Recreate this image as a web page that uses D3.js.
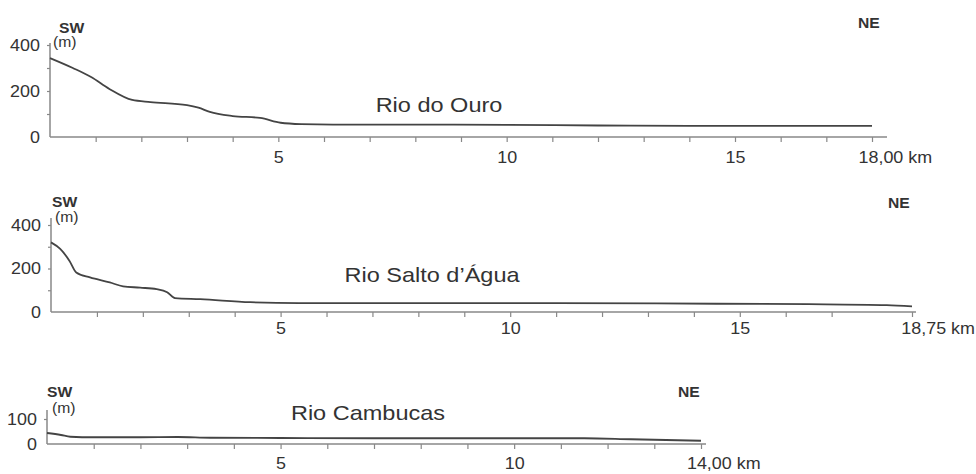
<!DOCTYPE html>
<html>
<head>
<meta charset="utf-8">
<script src="https://cdn.jsdelivr.net/npm/d3@7"></script>
<style>
  body { margin: 0; background: #fff; }
  text { font-family: "Liberation Sans", Arial, sans-serif; fill: #333; }
</style>
</head>
<body>
<svg id="chart"></svg>
<script>
const width = 976;
const height = 474;

// Rio do Ouro profile (distance km, elevation m)
const ouroKm   = [0, 0.5, 0.9, 1.3, 1.8, 2.2, 3.0, 3.25, 3.5, 4.0, 4.6, 5.05, 5.5, 6.2, 8, 10, 12, 14, 16, 18];
const ouroElev = [343, 300, 261, 209, 161, 152, 139, 128, 109, 91, 83, 62, 56, 54, 54, 53, 50, 48, 48, 48];

// Rio Salto d'Água profile
const saltoKm   = [0, 0.2, 0.4, 0.55, 0.85, 1.28, 1.57, 1.94, 2.3, 2.53, 2.7, 3.25, 4.34, 5.4, 8, 11, 14.5, 16.5, 18.2, 18.75];
const saltoElev = [320, 290, 236, 182, 159, 136, 118, 112, 105, 91, 64, 59, 45, 41, 41, 41, 38, 36, 32, 26];

// Rio Cambucas profile
const cambKm   = [0, 0.3, 0.5, 1, 2, 2.8, 3.5, 5, 7, 9, 11, 11.5, 12.5, 14];
const cambElev = [44, 36, 29, 27, 27, 28, 25, 24, 23, 23, 23, 23, 19, 13];

// axis ticks
const ouroLength  = 18;
const saltoLength = 18.75;
const cambLength  = 14;
const elevTicksTall  = [0, 100, 200, 300, 400];
const elevLabelsTall = [0, 200, 400];
const elevTicksLow   = [0, 100];
const elevLabelsLow  = [0, 100];
const kmLabels = [5, 10, 15];

const svg = d3.select("#chart")
    .attr("width", width)
    .attr("height", height);

const sx = 1.12; // the original figure is a bit wide, stretch text to match

function drawPanel(p) {
    const g = svg.append("g");
    const x = d3.scaleLinear().domain([0, p.length]).range(p.xRange);
    const y = d3.scaleLinear().domain(p.yDomain).range(p.yRange);

    // distance ticks: every km up to the end, plus the end
    const kmTicks = d3.range(1, Math.floor(p.length) + 1).filter(k => !p.skip || !p.skip.includes(k));
    if (kmTicks[kmTicks.length - 1] !== p.length) kmTicks.push(p.length);

    const fmtEnd = d3.format(".2f");
    const xAxis = d3.axisBottom(x)
        .tickValues(kmTicks)
        .tickSizeInner(5)
        .tickSizeOuter(0)
        .tickPadding(p.xPad)
        .tickFormat(k => k === p.length ? fmtEnd(k).replace(".", ",") + " km"
                                        : (kmLabels.includes(k) ? k : ""));

    const gx = g.append("g")
        .attr("transform", `translate(0,${y(0)})`)
        .call(xAxis);
    gx.select(".domain").remove();
    gx.selectAll("line").attr("stroke", "#888").attr("stroke-width", 1.2);
    gx.selectAll("text")
        .attr("font-size", 16)
        .attr("fill", "#333")
        .attr("transform", `scale(${sx},1)`)
        .filter(k => k === p.length)
        .attr("text-anchor", "start")
        .attr("x", p.endDx);

    const yAxis = d3.axisLeft(y)
        .tickValues(p.yTicks)
        .tickSizeInner(3)
        .tickSizeOuter(0)
        .tickPadding(6)
        .tickFormat(v => p.yLabels.includes(v) ? v : "");

    const gy = g.append("g")
        .attr("transform", `translate(${p.xRange[0]},0)`)
        .call(yAxis);
    gy.select(".domain").remove();
    gy.selectAll("line")
        .attr("stroke", "#888").attr("stroke-width", 1.2)
        .filter(v => v === 0).remove();
    gy.selectAll("text")
        .attr("font-size", 16)
        .attr("fill", "#333")
        .attr("transform", `scale(${sx},1)`);

    // axis lines
    g.append("line")
        .attr("x1", p.xRange[0]).attr("x2", p.axisEnd)
        .attr("y1", y(0)).attr("y2", y(0))
        .attr("stroke", "#888").attr("stroke-width", 1.5);
    g.append("line")
        .attr("x1", p.xRange[0]).attr("x2", p.xRange[0])
        .attr("y1", y(0)).attr("y2", p.axisTop)
        .attr("stroke", "#888").attr("stroke-width", 1.5);

    // profile
    const pts = p.km.map((k, i) => [k, p.elev[i]]);
    g.append("path")
        .datum(pts)
        .attr("fill", "none")
        .attr("stroke", "#444")
        .attr("stroke-width", 1.8)
        .attr("d", d3.line().x(d => x(d[0])).y(d => y(d[1])).curve(d3.curveMonotoneX));

    // labels
    const label = (txt, tx, ty, size, weight, anchor) => {
        g.append("g")
            .attr("transform", `translate(${tx},${ty}) scale(${sx},1)`)
            .append("text")
            .attr("text-anchor", anchor || "start")
            .attr("font-size", size)
            .attr("font-weight", weight || "normal")
            .text(txt);
    };
    label("SW", p.sw[0], p.sw[1], 14, "bold");
    label("(m)", p.m[0], p.m[1], 14);
    label("NE", p.ne[0], p.ne[1], 14, "bold");
    label(p.title, p.titlePos[0], p.titlePos[1], 21, "normal", "middle");
}

drawPanel({
    km: ouroKm, elev: ouroElev, length: ouroLength,
    xRange: [50, 872], yDomain: [0, 400], yRange: [137, 45],
    yTicks: elevTicksTall, yLabels: elevLabelsTall,
    axisEnd: 887, axisTop: 43, xPad: 10, endDx: -12.5,
    sw: [59, 33], m: [53, 47], ne: [858, 28],
    title: "Rio do Ouro", titlePos: [439, 112]
});

drawPanel({
    km: saltoKm, elev: saltoElev, length: saltoLength, skip: [18],
    xRange: [51, 912], yDomain: [0, 400], yRange: [312, 225],
    yTicks: elevTicksTall, yLabels: elevLabelsTall,
    axisEnd: 916, axisTop: 218, xPad: 6, endDx: -10,
    sw: [52, 207], m: [55, 222], ne: [888, 208],
    title: "Rio Salto d\u2019\u00c1gua", titlePos: [432, 282]
});

drawPanel({
    km: cambKm, elev: cambElev, length: cambLength,
    xRange: [47, 701], yDomain: [0, 100], yRange: [444, 419],
    yTicks: elevTicksLow, yLabels: elevLabelsLow,
    axisEnd: 706, axisTop: 410, xPad: 9, endDx: -13,
    sw: [47, 397], m: [52, 413], ne: [678, 397],
    title: "Rio Cambucas", titlePos: [368, 420]
});
</script>
</body>
</html>
